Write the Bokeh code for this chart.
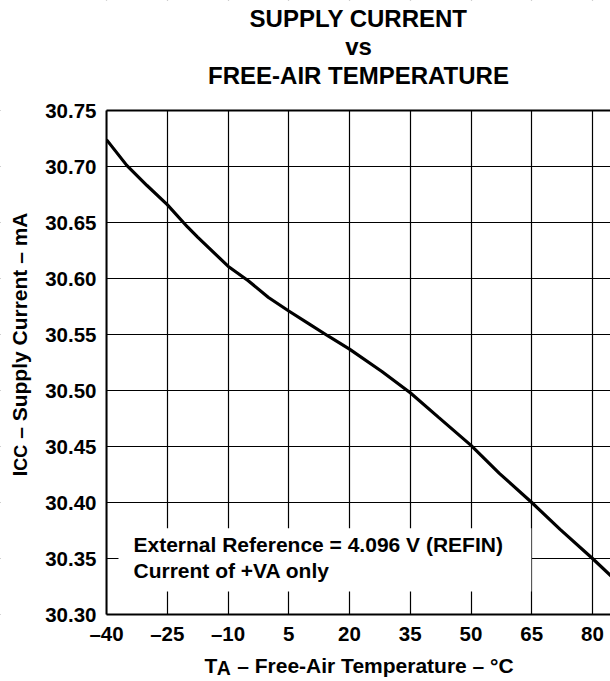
import math
from bokeh.plotting import figure
from bokeh.models import FixedTicker, Label, BoxAnnotation, Range1d, LinearAxis
from bokeh.embed import file_html
from bokeh.resources import INLINE

# ---- data ----
temp_c = [-40, -35, -30, -25, -20, -17.5, -10, -5, 0, 5, 10, 15, 20, 28,
          35, 42, 50, 57, 65, 72, 80, 85]
icc_ma = [30.724, 30.701, 30.683, 30.666, 30.646, 30.637, 30.611, 30.598,
          30.583, 30.571, 30.5595, 30.548, 30.537, 30.517, 30.498, 30.476,
          30.451, 30.426, 30.400, 30.376, 30.350, 30.333]

x_ticks = [-40, -25, -10, 5, 20, 35, 50, 65, 80]
x_tick_labels = ["\u201340", "\u201325", "\u201310", "5", "20", "35", "50", "65", "80"]
y_ticks = [30.30, 30.35, 30.40, 30.45, 30.50, 30.55, 30.60, 30.65, 30.70, 30.75]
y_tick_labels = ["30.30", "30.35", "30.40", "30.45", "30.50", "30.55",
                 "30.60", "30.65", "30.70", "30.75"]

title_lines = ["SUPPLY CURRENT", "vs", "FREE-AIR TEMPERATURE"]
note_lines = ["External Reference = 4.096 V (REFIN)", "Current of +VA only"]

X_MIN, Y_MIN, Y_MAX = -40, 30.30, 30.75

# ---- layout (pixels) ----
W, H = 610, 681
PLOT_LEFT, PLOT_TOP, PLOT_BOTTOM = 106, 110, 614
PX_PER_X = 4.05
PX_PER_Y = (PLOT_BOTTOM - PLOT_TOP) / (Y_MAX - Y_MIN)
X_MAX = X_MIN + (W - PLOT_LEFT) / PX_PER_X

x_range = Range1d(X_MIN - PLOT_LEFT / PX_PER_X, X_MAX)
y_range = Range1d(Y_MIN - (H - PLOT_BOTTOM) / PX_PER_Y, Y_MAX + PLOT_TOP / PX_PER_Y)

# white box behind the note (data units)
NOTE_BOX = dict(left=-37.04, right=64.9, bottom=30.3205, top=30.377)

FONT = "Liberation Sans"
SHIFT = 8.5   # text baseline correction (px)

p = figure(width=W, height=H, output_backend="svg", toolbar_location=None,
           x_range=x_range, y_range=y_range, min_border=0)
p.outline_line_color = None
p.background_fill_color = "white"
p.border_fill_color = "white"

# axes drawn at the plot-area edges
p.xaxis.fixed_location = Y_MIN
p.yaxis.fixed_location = X_MIN
p.xaxis.bounds = (X_MIN, X_MAX)
p.yaxis.bounds = (Y_MIN, Y_MAX)
for ax, ticks, labels in ((p.xaxis, x_ticks, x_tick_labels), (p.yaxis, y_ticks, y_tick_labels)):
    ax.ticker = FixedTicker(ticks=ticks)
    ax.major_label_overrides = {t: l for t, l in zip(ticks, labels)}
    ax.major_label_text_font = FONT
    ax.major_label_text_font_size = "20.5px"
    ax.major_label_text_font_style = "bold"
    ax.major_label_text_color = "black"
    ax.major_tick_in = 0
    ax.major_tick_out = 0
    ax.minor_tick_line_color = None
    ax.axis_line_color = "black"
    ax.axis_line_width = 2
p.xaxis.major_label_standoff = 7
p.yaxis.major_label_standoff = 10

top_axis = LinearAxis(fixed_location=Y_MAX, bounds=(X_MIN, X_MAX),
                      ticker=FixedTicker(ticks=[]), axis_line_width=2,
                      axis_line_color="black", major_tick_line_color=None,
                      minor_tick_line_color=None)
p.add_layout(top_axis, "above")

p.grid.grid_line_color = "black"
p.grid.grid_line_width = 1.2
p.grid.grid_line_alpha = 1.0

# white masks outside the plot area (hide grid lines there)
for kw in (dict(right=X_MIN), dict(bottom=Y_MAX), dict(top=Y_MIN)):
    p.add_layout(BoxAnnotation(fill_color="white", fill_alpha=1.0, line_color=None,
                               level="glyph", **kw))

# curve
p.line(temp_c, icc_ma, line_width=3.2, line_color="black")

# note with white background
p.add_layout(BoxAnnotation(fill_color="white", fill_alpha=1.0, line_color=None, **NOTE_BOX))

def lab(**kw):
    base = dict(text_font=FONT, text_font_style="bold", text_color="black",
                text_align="left", text_baseline="alphabetic")
    base.update(kw)
    p.add_layout(Label(**base))

for i, t in enumerate(note_lines):
    lab(x=X_MIN, y=Y_MIN, x_offset=27, y_offset=62 - 26 * i + SHIFT, text=t,
        text_font_size="21px")

xmid = (X_MIN + X_MAX) / 2

# title
for i, t in enumerate(title_lines):
    lab(x=xmid, y=Y_MAX, y_offset=84 - 28.5 * i + SHIFT, text=t, text_font_size="24px",
        text_align="center")

MAIN = 21
NBSP = "\u00a0"
# x-axis label: T_A – Free-Air Temperature – °C
SUB_A = 19.5
wT = 0.611 * MAIN
wA = 0.722 * SUB_A
x_rest = NBSP + "\u2013 Free-Air Temperature \u2013 \u00b0C"
xs = 98
lab(x=X_MIN, y=Y_MIN, x_offset=xs, y_offset=-59 + SHIFT, text="T", text_font_size=f"{MAIN}px")
lab(x=X_MIN, y=Y_MIN, x_offset=xs + wT - 0.5, y_offset=-62 + SHIFT, text="A",
    text_font_size=f"{SUB_A}px")
lab(x=X_MIN, y=Y_MIN, x_offset=xs + wT + wA, y_offset=-59 + SHIFT, text=x_rest,
    text_font_size=f"{MAIN}px")

# y-axis label: I_CC – Supply Current – mA (rotated)
SUB_C = 18
wI = 0.278 * MAIN
wCC = 1.444 * SUB_C
y_rest = NBSP + "\u2013 Supply Current \u2013 mA"
ys = 138
ang = math.pi / 2
lab(x=X_MIN, y=Y_MIN, x_offset=-79 - SHIFT, y_offset=ys, angle=ang, text="I",
    text_font_size=f"{MAIN}px")
lab(x=X_MIN, y=Y_MIN, x_offset=-77.5 - SHIFT, y_offset=ys + wI, angle=ang, text="CC",
    text_font_size=f"{SUB_C}px")
lab(x=X_MIN, y=Y_MIN, x_offset=-79 - SHIFT, y_offset=ys + wI + wCC, angle=ang, text=y_rest,
    text_font_size=f"{MAIN}px")

open("out.html", "w").write(file_html(p, INLINE))
